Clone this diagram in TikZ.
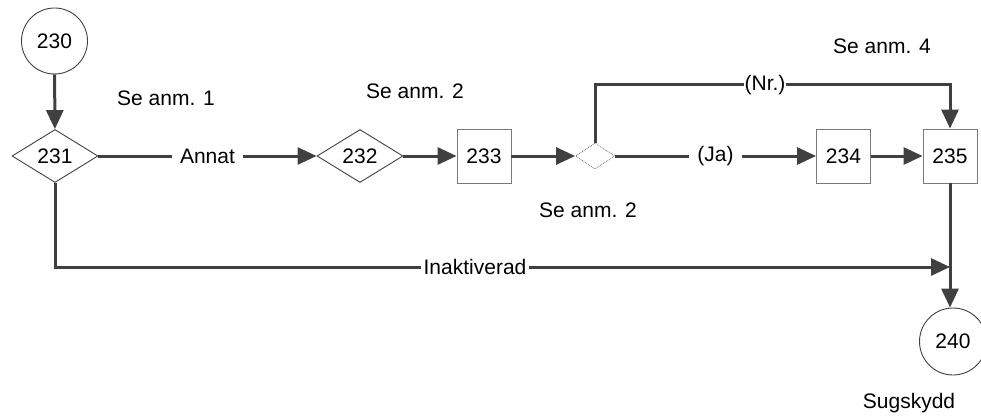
\documentclass[tikz,border=0pt]{standalone}
\usepackage{fontspec}
\setmainfont{Liberation Sans}
\usetikzlibrary{shapes.geometric,arrows.meta}
\definecolor{ln}{HTML}{404040}
\definecolor{bd}{HTML}{7A7A7A}
\begin{document}
\begin{tikzpicture}[x=1pt,y=-1pt,
  every node/.style={font=\fontsize{21}{25}\selectfont},
  circ/.style={circle,draw=ln,line width=0.9pt,minimum size=66pt,inner sep=0pt},
  dia/.style={diamond,draw=ln,line width=0.9pt,minimum width=86pt,minimum height=53pt,inner sep=0pt,aspect=1.65},
  sdia/.style={diamond,draw=bd,densely dotted,line width=0.8pt,minimum width=39pt,minimum height=26pt,inner sep=0pt},
  box/.style={rectangle,draw=bd,line width=0.9pt,minimum width=54pt,minimum height=54pt,inner sep=0pt},
  conn/.style={draw=ln,line width=3pt,-{Triangle[length=19pt,width=17pt]}},
  lbl/.style={fill=white,inner sep=4pt},
  note/.style={inner sep=0pt}]
\useasboundingbox (0,0) rectangle (981,417);
\node[circ] (n230) at (54.5,41) {230};
\node[dia] (n231) at (55,156) {231};
\node[dia] (n232) at (360,156) {232};
\node[box] (n233) at (484,156) {233};
\node[sdia] (d) at (595,156) {};
\node[box] (n234) at (843.5,156) {234};
\node[box] (n235) at (950,156) {235};
\node[circ,minimum size=67pt] (n240) at (953,341.5) {240};
\coordinate (nrc) at (595,85);
\coordinate (nrr) at (950,85);
\coordinate (ina) at (55,267);
\coordinate (inb) at (950,267);
\draw[conn] (n230) -- (n231);
\draw[conn] (n231) -- node[lbl,inner xsep=8pt] (annat) {Annat} (n232);
\draw[conn] (n232) -- (n233);
\draw[conn] (n233) -- (d);
\draw[conn] (d) -- node[lbl,inner xsep=8pt] (ja) {(Ja)} (n234);
\draw[conn] (n234) -- (n235);
\draw[conn] (d.north) -- (nrc) -- (nrr) -- (n235.north);
\node[lbl,inner sep=1pt] (nr) at (765,85) {(Nr.)};
\draw[conn] (n231.south) -- (ina) -- (inb);
\node[lbl,inner xsep=3pt] (inak) at (475,267) {Inaktiverad};
\draw[conn] (n235.south) -- (n235.south |- n240.north);
\node[note] (s1) at (166,98) {Se anm. 1};
\node[note] (s2a) at (415,91) {Se anm. 2};
\node[note] (s2b) at (588,210) {Se anm. 2};
\node[note] (s4) at (882,46) {Se anm. 4};
\node[note] (sug) at (909,403) {Sugskydd};
\end{tikzpicture}
\end{document}
